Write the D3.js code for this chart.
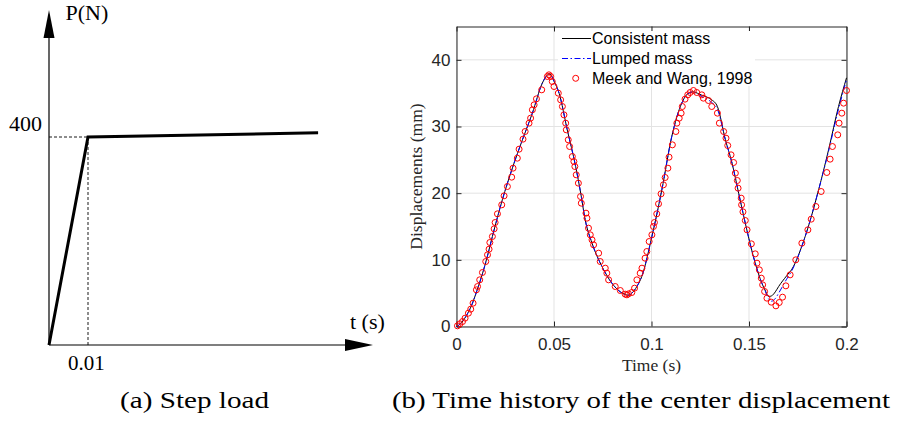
<!DOCTYPE html>
<html lang="en">
<head>
<meta charset="utf-8">
<title>step load and center displacement</title>
<script src="https://d3js.org/d3.v7.min.js"></script>
<style>
body { margin: 0; background: #fff; }
svg { display: block; }
</style>
</head>
<body>
<script>
// (a) step load
var loadTime = [0, 0.01, 0.069];
var loadForce = [0, 400, 408];

// (b) center displacement, solver curves
var solTime = [0, 0.002, 0.0048, 0.0082, 0.0105, 0.0133, 0.0158, 0.0184, 0.0235, 0.0287,
  0.0338, 0.0389, 0.044, 0.0462, 0.0474, 0.0485, 0.05, 0.0526, 0.0568, 0.0611,
  0.0637, 0.066, 0.0695, 0.0746, 0.0797, 0.084, 0.0865, 0.0882, 0.0899, 0.0925,
  0.095, 0.1002, 0.1053, 0.1104, 0.1155, 0.1185, 0.1215, 0.1235, 0.1258, 0.1285,
  0.1309, 0.1338, 0.1379, 0.1413, 0.1447, 0.1481, 0.1532, 0.1566, 0.1585, 0.1601,
  0.1616, 0.1635, 0.1652, 0.1693, 0.172, 0.1788, 0.1857, 0.1908, 0.1959, 0.2];
var consistentMass = [0, 0.4, 1.5, 3.5, 5.4, 7.9, 10.5, 13.5, 19, 23.8,
  28, 32, 36.5, 37.6, 37.9, 37.7, 36.8, 35, 29.5, 24,
  20, 16, 12.5, 9, 6.5, 5.2, 4.8, 4.7, 5.0, 6.0,
  7.5, 13.5, 20.5, 28.5, 33.5, 34.9, 35.2, 35.0, 34.7, 34.4,
  34.0, 33.0, 28, 24.5, 20, 15.5, 9.5, 6.5, 5.3, 4.5,
  4.6, 5.2, 6.0, 7.6, 8.6, 13.5, 20.5, 26.5, 33, 37.3];
var lumpedMass = [0, 0.4, 1.5, 3.5, 5.4, 7.9, 10.5, 13.5, 19, 23.8,
  28, 32, 36.5, 37.6, 37.9, 37.7, 36.8, 35, 29.5, 24,
  20, 16, 12.5, 9, 6.5, 5.2, 4.8, 4.7, 5.0, 6.0,
  7.5, 13.5, 20.5, 28.5, 33.5, 34.9, 35.2, 34.9, 34.5, 34.1,
  33.6, 32.6, 28, 24.5, 20, 15.5, 9.5, 6.5, 5.2, 4.1,
  3.8, 4.2, 5.0, 7.1, 8.4, 13.5, 20.5, 26.3, 32.6, 37.0];

// Meek and Wang, 1998
var meekTime = [0.0005, 0.0017, 0.0031, 0.0044, 0.0061, 0.0073, 0.0085, 0.0102, 0.0108, 0.0119,
  0.0133, 0.015, 0.0159, 0.0167, 0.0171, 0.0184, 0.0193, 0.0198, 0.021, 0.0232,
  0.0244, 0.0261, 0.0283, 0.029, 0.0312, 0.0321, 0.0341, 0.0352, 0.0372, 0.038,
  0.0389, 0.0398, 0.041, 0.0437, 0.0466, 0.0474, 0.0483, 0.0491, 0.05, 0.0522,
  0.0534, 0.0543, 0.0551, 0.056, 0.0563, 0.0573, 0.058, 0.0594, 0.0602, 0.0607,
  0.0614, 0.0625, 0.0636, 0.064, 0.0664, 0.0669, 0.0677, 0.0686, 0.0695, 0.0703,
  0.0729, 0.0737, 0.0763, 0.0771, 0.078, 0.0814, 0.084, 0.0865, 0.0874, 0.0882,
  0.0899, 0.0913, 0.0925, 0.0942, 0.0951, 0.0967, 0.0976, 0.0988, 0.1002, 0.101,
  0.1015, 0.1027, 0.1036, 0.1049, 0.1061, 0.107, 0.1084, 0.109, 0.1107, 0.1125,
  0.113, 0.1142, 0.1152, 0.1158, 0.1172, 0.1186, 0.1198, 0.1215, 0.1232, 0.1258,
  0.1266, 0.1292, 0.1309, 0.1338, 0.1348, 0.137, 0.1382, 0.1391, 0.1408, 0.1421,
  0.143, 0.144, 0.1444, 0.146, 0.1462, 0.1469, 0.1481, 0.149, 0.1512, 0.1532,
  0.1541, 0.1553, 0.1563, 0.157, 0.158, 0.1592, 0.1614, 0.1638, 0.1655, 0.1672,
  0.1689, 0.1711, 0.174, 0.1771, 0.1802, 0.1819, 0.1843, 0.187, 0.1899, 0.1916,
  0.1928, 0.1955, 0.1962, 0.1976, 0.1985, 0.2];
var meekDisp = [0.1, 0.4, 0.75, 1.25, 2.0, 2.6, 3.5, 5.5, 6.0, 7.0,
  8.1, 9.75, 10.75, 11.6, 12.6, 13.5, 14.65, 15.6, 16.9, 18.25,
  19.6, 21, 22.4, 23.75, 25.25, 26.6, 28.1, 29.25, 30.5, 31.25,
  32.5, 33.25, 34.15, 35.5, 37.5, 37.75, 37.5, 36.75, 36, 35,
  34, 33, 31.75, 30.5, 29.5, 28, 27, 25.5, 24.75, 24,
  22.75, 21.5, 19.5, 18.5, 17, 16.25, 14.75, 13.75, 13, 12.25,
  11, 9.75, 8.75, 8, 7, 6, 5.4, 4.85, 4.75, 4.9,
  5.1, 5.75, 7, 8, 8.75, 10.25, 11.25, 12.75, 13.75, 15,
  15.6, 16.9, 18.4, 19.9, 21.25, 22.35, 23.75, 25.4, 27.25, 29.25,
  30.5, 31.25, 32, 33, 34.1, 34.75, 35.1, 35.4, 35.1, 34.75,
  34.25, 33.9, 33.0, 32, 30.5, 29.25, 28.25, 27.15, 25.75, 24.6,
  23, 21.9, 20.75, 19.25, 18.25, 17.2, 15.9, 14.5, 12.4, 10.9,
  9.5, 8.5, 7.25, 6.25, 5.25, 4.25, 3.65, 3.1, 3.6, 4.4,
  6.1, 7.75, 10, 12.5, 14.5, 16.1, 18, 20.25, 23.1, 25.1,
  27, 28.75, 30.5, 32, 33.5, 35.4];

var xTicks = [0, 0.05, 0.1, 0.15, 0.2];
var yTicks = [0, 10, 20, 30, 40];
var legendNames = ["Consistent mass", "Lumped mass", "Meek and Wang, 1998"];

var width = 897, height = 424;
var serif = "'Liberation Serif', 'Times New Roman', serif";
var sans = "'Liberation Sans', Arial, sans-serif";
var axisGray = "#262626";

var svg = d3.select("body")
    .append("svg")
    .attr("width", width)
    .attr("height", height);

svg.append("rect").attr("width", width).attr("height", height).attr("fill", "#fff");

// ---------- (a) step load sketch ----------
var xa = d3.scaleLinear().domain([0, 0.01]).range([49, 88]);
var ya = d3.scaleLinear().domain([0, 400]).range([345, 137]);

var pa = svg.append("g");

pa.append("line")
    .attr("x1", xa(0)).attr("y1", ya(0))
    .attr("x2", xa(0)).attr("y2", 30)
    .attr("stroke", "#000").attr("stroke-width", 1.2);
pa.append("line")
    .attr("x1", xa(0)).attr("y1", ya(0))
    .attr("x2", 355).attr("y2", ya(0))
    .attr("stroke", "#000").attr("stroke-width", 1.2);
pa.append("path")
    .attr("d", "M" + xa(0) + ",10 L" + (xa(0) - 5.5) + ",38 L" + (xa(0) + 5.5) + ",38 Z")
    .attr("fill", "#000");
pa.append("path")
    .attr("d", "M373," + ya(0) + " L345," + (ya(0) - 6) + " L345," + (ya(0) + 6) + " Z")
    .attr("fill", "#000");

// dashed guides to the corner point
pa.append("line")
    .attr("x1", xa(0)).attr("y1", ya(loadForce[1]))
    .attr("x2", xa(loadTime[1])).attr("y2", ya(loadForce[1]))
    .attr("stroke", "#000").attr("stroke-width", 0.9)
    .attr("stroke-dasharray", "3,2");
pa.append("line")
    .attr("x1", xa(loadTime[1])).attr("y1", ya(loadForce[1]))
    .attr("x2", xa(loadTime[1])).attr("y2", ya(0))
    .attr("stroke", "#000").attr("stroke-width", 0.9)
    .attr("stroke-dasharray", "3,2");

var loadLine = d3.line()
    .x(function(d, i) { return xa(loadTime[i]); })
    .y(function(d) { return ya(d); });

pa.append("path")
    .datum(loadForce)
    .attr("d", loadLine)
    .attr("fill", "none")
    .attr("stroke", "#000")
    .attr("stroke-width", 3)
    .attr("stroke-linejoin", "miter");

pa.append("text").attr("x", 65.5).attr("y", 20).text("P(N)")
    .attr("font-family", serif).attr("font-size", 22);
pa.append("text").attr("x", 9).attr("y", 131).text("400")
    .attr("font-family", serif).attr("font-size", 22);
pa.append("text").attr("x", 350).attr("y", 329).text("t (s)")
    .attr("font-family", serif).attr("font-size", 22);
pa.append("text").attr("x", 68).attr("y", 370).text("0.01")
    .attr("font-family", serif).attr("font-size", 21);

// ---------- (b) time history ----------
var x = d3.scaleLinear().domain([0, 0.2]).range([456.5, 846.5]);
var y = d3.scaleLinear().domain([0, 45]).range([326.5, 26.5]);

var pb = svg.append("g");

// grid
pb.selectAll(".gx")
    .data(xTicks)
    .enter()
    .append("line")
    .attr("x1", function(d) { return x(d); })
    .attr("x2", function(d) { return x(d); })
    .attr("y1", y(0)).attr("y2", y(45))
    .attr("stroke", "#e3e3e3").attr("stroke-width", 1);
pb.selectAll(".gy")
    .data(yTicks)
    .enter()
    .append("line")
    .attr("y1", function(d) { return y(d); })
    .attr("y2", function(d) { return y(d); })
    .attr("x1", x(0)).attr("x2", x(0.2))
    .attr("stroke", "#e3e3e3").attr("stroke-width", 1);

function fmt(d) { return String(d); }

var axB = pb.append("g")
    .attr("transform", "translate(0," + y(0) + ")")
    .call(d3.axisBottom(x).tickValues(xTicks).tickSizeInner(-5).tickSizeOuter(0)
        .tickPadding(11.8).tickFormat(fmt));
var axT = pb.append("g")
    .attr("transform", "translate(0," + y(45) + ")")
    .call(d3.axisTop(x).tickValues(xTicks).tickSizeInner(-5).tickSizeOuter(0)
        .tickFormat(""));
var axL = pb.append("g")
    .attr("transform", "translate(" + x(0) + ",0)")
    .call(d3.axisLeft(y).tickValues(yTicks).tickSizeInner(-5).tickSizeOuter(0)
        .tickPadding(6).tickFormat(fmt));
var axR = pb.append("g")
    .attr("transform", "translate(" + x(0.2) + ",0)")
    .call(d3.axisRight(y).tickValues(yTicks).tickSizeInner(-5).tickSizeOuter(0)
        .tickFormat(""));

[axB, axT, axL, axR].forEach(function(g) {
    g.select(".domain").attr("stroke", axisGray).attr("stroke-width", 1);
    g.selectAll(".tick line").attr("stroke", axisGray).attr("stroke-width", 1);
    g.selectAll(".tick text")
        .attr("fill", axisGray)
        .attr("font-family", sans)
        .attr("font-size", 17);
});

var pts = function(vals) {
    return vals.map(function(v, i) { return [solTime[i], v]; });
};

var line = d3.line()
    .x(function(d) { return x(d[0]); })
    .y(function(d) { return y(d[1]); })
    .curve(d3.curveMonotoneX);

pb.append("path")
    .datum(pts(consistentMass))
    .attr("d", line)
    .attr("fill", "none")
    .attr("stroke", "#000")
    .attr("stroke-width", 1);

pb.append("path")
    .datum(pts(lumpedMass))
    .attr("d", line)
    .attr("fill", "none")
    .attr("stroke", "#0000ff")
    .attr("stroke-width", 1)
    .attr("stroke-dasharray", "6,2.5,1.5,2.5");

pb.selectAll(".meek")
    .data(meekTime)
    .enter()
    .append("circle")
    .attr("class", "meek")
    .attr("cx", function(d) { return x(d); })
    .attr("cy", function(d, i) { return y(meekDisp[i]); })
    .attr("r", 3)
    .attr("fill", "none")
    .attr("stroke", "#ff0000")
    .attr("stroke-width", 1);

// legend
var lg = pb.append("g");
lg.append("rect")
    .attr("x", 558).attr("y", 31).attr("width", 197).attr("height", 55)
    .attr("fill", "#fff");
lg.append("line")
    .attr("x1", 562).attr("x2", 591).attr("y1", 38.5).attr("y2", 38.5)
    .attr("stroke", "#000").attr("stroke-width", 1);
lg.append("line")
    .attr("x1", 562).attr("x2", 591).attr("y1", 58.5).attr("y2", 58.5)
    .attr("stroke", "#0000ff").attr("stroke-width", 1)
    .attr("stroke-dasharray", "6,2.5,1.5,2.5");
lg.append("circle")
    .attr("cx", 575.7).attr("cy", 78.3).attr("r", 3)
    .attr("fill", "none").attr("stroke", "#ff0000").attr("stroke-width", 1);
lg.selectAll(".lt")
    .data(legendNames)
    .enter()
    .append("text")
    .attr("x", 592)
    .attr("y", function(d, i) { return 44.3 + i * 20; })
    .text(function(d) { return d; })
    .attr("font-family", sans)
    .attr("font-size", 16)
    .attr("fill", "#000");

// axis titles
pb.append("text")
    .attr("x", (x(0) + x(0.2)) / 2).attr("y", 371)
    .attr("text-anchor", "middle")
    .attr("font-family", serif).attr("font-size", 17.5)
    .attr("fill", axisGray)
    .text("Time (s)");
pb.append("text")
    .attr("transform", "translate(422," + (y(0) + y(45)) / 2 + ") rotate(-90)")
    .attr("text-anchor", "middle")
    .attr("font-family", serif).attr("font-size", 17.5)
    .attr("fill", axisGray)
    .text("Displacements (mm)");

// captions
svg.append("text")
    .attr("x", 120).attr("y", 408)
    .attr("font-family", serif).attr("font-size", 23)
    .attr("textLength", 149).attr("lengthAdjust", "spacingAndGlyphs")
    .text("(a) Step load");
svg.append("text")
    .attr("x", 392).attr("y", 408)
    .attr("font-family", serif).attr("font-size", 23)
    .attr("textLength", 498).attr("lengthAdjust", "spacingAndGlyphs")
    .text("(b) Time history of the center displacement");
</script>
</body>
</html>
